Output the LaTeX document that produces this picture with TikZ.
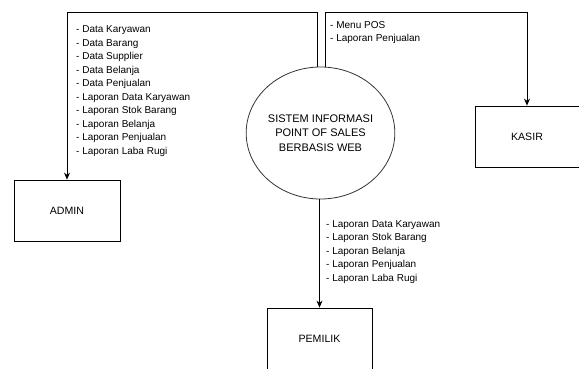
\documentclass[tikz,border=0pt]{standalone}
\usepackage{fontspec}
\setmainfont{Liberation Sans}
\usetikzlibrary{shapes.geometric,arrows.meta,positioning,calc}
\begin{document}
\begin{tikzpicture}[x=1pt,y=-1pt,
  entity/.style={draw=black,line width=0.8pt,minimum width=105pt,minimum height=61pt,inner sep=0pt,font=\fontsize{10.6}{13}\selectfont},
  flow/.style={draw=black,line width=0.8pt,-{Stealth[length=7pt,width=6pt]}},
  lbl/.style={align=left,anchor=north west,inner sep=0pt,font=\fontsize{10}{13.5}\selectfont},
  proc/.style={ellipse,draw=black!80,line width=0.8pt,minimum width=117pt,minimum height=132pt,inner sep=0pt,align=center,font=\fontsize{11}{14.5}\selectfont}]
\useasboundingbox (0,0) rectangle (579,369);
\clip (0,0) rectangle (579,369);
\node[proc] (sys) at (320.5,133) {SISTEM INFORMASI\\POINT OF SALES\\BERBASIS WEB};
\node[entity,minimum width=106pt] (admin) at (67,210.5) {ADMIN};
\node[entity,minimum width=104pt] (kasir) at (527,136.5) {KASIR};
\node[entity] (pemilik) at (319.5,338.5) {PEMILIK};
\coordinate (tl) at (67,12);
\coordinate (tr) at (527,12);
\draw[flow] (sys.93.5) |- (tl) -- (admin.north);
\draw[flow] (sys.86.5) |- (tr) -- (kasir.north);
\draw[flow] (sys.south -| pemilik.north) -- (pemilik.north);
\node[lbl] (la) at (76,25.5) {- Data Karyawan\\- Data Barang\\- Data Supplier\\- Data Belanja\\- Data Penjualan\\- Laporan Data Karyawan\\- Laporan Stok Barang\\- Laporan Belanja\\- Laporan Penjualan\\- Laporan Laba Rugi};
\node[lbl] (lk) at (330,21) {- Menu POS\\- Laporan Penjualan};
\node[lbl] (lp) at (326,220) {- Laporan Data Karyawan\\- Laporan Stok Barang\\- Laporan Belanja\\- Laporan Penjualan\\- Laporan Laba Rugi};
\end{tikzpicture}
\end{document}
